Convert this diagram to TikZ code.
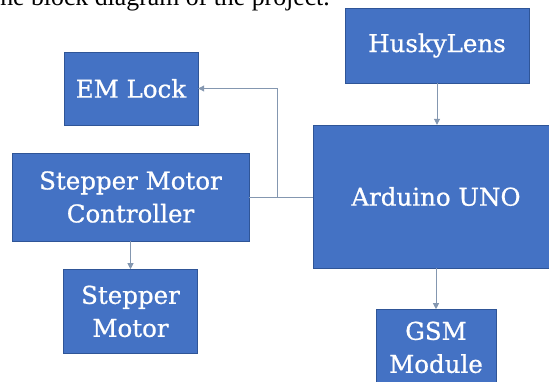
\documentclass[tikz,border=0pt]{standalone}
\usepackage{fontspec}
\setmainfont{DejaVu Serif}
\newfontfamily\blockfont[FakeBold=0.8]{DejaVu Serif}
\newfontfamily\pagefont{Liberation Serif}
\usetikzlibrary{positioning, arrows.meta}
\definecolor{blockblue}{HTML}{4472C4}
\definecolor{blockedge}{HTML}{2F5597}
\definecolor{wirecolor}{HTML}{8497B0}

\begin{document}
\begin{tikzpicture}[x=1pt, y=1pt,
    block/.style={draw=blockedge, fill=blockblue, text=white, align=center, inner sep=0pt, font=\blockfont\fontsize{24.5}{33}\selectfont},
    wire/.style={draw=wirecolor, line width=0.9pt},
    >={Triangle[length=6pt,width=6pt]}]
    \useasboundingbox (0,0) rectangle (549,381);
    \clip (0,0) rectangle (549,381);
    \node (caption) [anchor=base east, inner sep=0pt, font=\pagefont\fontsize{25.8}{30}\selectfont] at (330,375) {the block diagram of the project.};
    \node (arduino) [block, minimum width=246pt, minimum height=143pt] at (436,184.5) {Arduino UNO};
    \node (husky) [block, minimum width=184pt, minimum height=75pt] at (437,335.5) {HuskyLens};
    \node (gsm) [block, minimum width=120pt, minimum height=76pt, below=41pt of arduino] {GSM\\Module};
    \node (smc) [block, minimum width=237pt, minimum height=88pt] at (130.5,184) {Stepper Motor\\Controller};
    \node (stepper) [block, minimum width=134pt, minimum height=84pt, below=28pt of smc] {Stepper\\Motor};
    \node (emlock) [block, minimum width=134pt, minimum height=73pt] at (131,292.5) {EM Lock};
    \coordinate [right=28pt of smc.east] (split);
    \draw[wire, ->] (husky.south) -- (husky.south |- arduino.north);
    \draw[wire, ->] (arduino.south) -- (gsm.north);
    \draw[wire, ->] (smc.south) -- (stepper.north);
    \draw[wire] (smc.east) -- (smc.east -| arduino.west);
    \draw[wire, ->] (split) |- (emlock.east);
\end{tikzpicture}
\end{document}
